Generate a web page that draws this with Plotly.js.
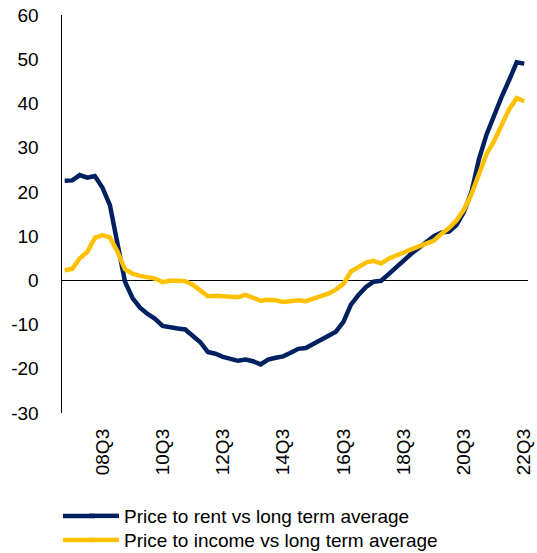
<!DOCTYPE html>
<html>
<head>
<meta charset="utf-8">
<script src="https://cdn.plot.ly/plotly-3.0.1.min.js"></script>
<style>
  html, body { margin: 0; padding: 0; background: #fff; }
  #chart { width: 537px; height: 553px; }
</style>
</head>
<body>
<div id="chart"></div>
<script>
// Quarterly categories 07Q2 .. 22Q3
const quarters = [];
for (let y = 2007; y <= 2022; y++) {
  for (let q = 1; q <= 4; q++) {
    if (y === 2007 && q < 2) continue;
    if (y === 2022 && q > 3) continue;
    quarters.push(String(y % 100).padStart(2, '0') + 'Q' + q);
  }
}

const tickLabels = ['08Q3', '10Q3', '12Q3', '14Q3', '16Q3', '18Q3', '20Q3', '22Q3'];
const yTickValues = [-30, -20, -10, 0, 10, 20, 30, 40, 50, 60];
const yTickLabels = ['-30', '-20', '-10', '0', '10', '20', '30', '40', '50', '60'];

const priceToRent = [
  22.5, 22.6, 23.8, 23.2, 23.6, 21.0, 17.0, 8.5, -0.3, -4.0,
  -6.2, -7.6, -8.7, -10.3, -10.7, -10.9, -11.1, -12.5, -14.0, -16.2,
  -16.6, -17.3, -17.8, -18.2, -17.9, -18.3, -19.0, -17.9, -17.5, -17.2,
  -16.4, -15.5, -15.3, -14.4, -13.6, -12.7, -11.6, -9.4, -5.5, -3.3,
  -1.5, -0.3, -0.1, 1.4, 3.0, 4.5, 6.0, 7.3, 8.7, 10.0,
  10.8, 11.0, 12.5, 15.5, 20.0, 27.5, 33.0, 37.5, 41.5, 45.3,
  49.3, 49.0
];

const priceToIncome = [
  2.3, 2.6, 5.0, 6.4, 9.6, 10.2, 9.7, 6.5, 2.5, 1.5,
  1.0, 0.7, 0.4, -0.4, -0.1, -0.1, -0.2, -1.0, -2.2, -3.6,
  -3.5, -3.6, -3.6, -3.8, -3.3, -3.9, -4.6, -4.4, -4.5, -4.9,
  -4.8, -4.5, -4.7, -4.2, -3.6, -3.0, -2.1, -0.8, 2.0, 3.1,
  4.0, 4.4, 3.8, 4.9, 5.7, 6.3, 7.0, 7.6, 8.2, 9.0,
  10.5, 11.8, 13.5, 16.0, 19.5, 24.0, 28.6, 31.5, 35.1, 38.7,
  41.2, 40.5
];

const seriesNames = ['Price to rent vs long term average', 'Price to income vs long term average'];
const seriesColors = ['#002060', '#FFC000'];

const FONT = 'Liberation Sans, Arial, sans-serif';
const W = 537, H = 553;
const M = { l: 62, r: 9, t: 15, b: 140 };
const plotH = H - M.t - M.b, plotW = W - M.l - M.r;
const legendRows = [516, 540];  // pixel centres of the legend rows

const traces = [
  {
    x: quarters, y: priceToRent, type: 'scatter', mode: 'lines',
    name: seriesNames[0], legend: 'legend',
    line: { color: seriesColors[0], width: 4.5 }
  },
  {
    x: quarters, y: priceToIncome, type: 'scatter', mode: 'lines',
    name: seriesNames[1], legend: 'legend2',
    line: { color: seriesColors[1], width: 4.5 }
  }
];

function legendBox(rowCentre) {
  return {
    xref: 'container', yref: 'container',
    x: 84 / W, y: 1 - (rowCentre - 19) / H, xanchor: 'left', yanchor: 'top',
    orientation: 'v',
    font: { family: FONT, size: 19, color: '#000' },
    bgcolor: 'rgba(0,0,0,0)'
  };
}

// extend the legend line samples to the left, as in the reference
const legendShapes = legendRows.map((row, k) => ({
  type: 'line', xref: 'paper', yref: 'paper',
  x0: (63 - M.l) / plotW, x1: (95 - M.l) / plotW,
  y0: (H - M.b - row) / plotH, y1: (H - M.b - row) / plotH,
  line: { color: seriesColors[k], width: 4.5 }
}));

const layout = {
  width: W, height: H,
  margin: { l: M.l, r: M.r, t: M.t, b: M.b, autoexpand: false },
  paper_bgcolor: '#fff', plot_bgcolor: '#fff',
  font: { family: FONT, size: 19, color: '#000' },
  showlegend: true,
  legend: legendBox(legendRows[0]),
  legend2: legendBox(legendRows[1]),
  shapes: legendShapes,
  xaxis: {
    type: 'category',
    range: [-0.36, 61.5],
    tickmode: 'array',
    tickvals: tickLabels,
    ticktext: tickLabels,
    tickangle: -90,
    ticks: '',
    ticklabelstandoff: 11,
    showgrid: false, zeroline: false, showline: false,
    tickfont: { family: FONT, size: 19, color: '#000' },
    fixedrange: true
  },
  yaxis: {
    range: [-30, 60],
    tickmode: 'array',
    tickvals: yTickValues,
    ticktext: yTickLabels,
    ticks: '',
    ticklabelstandoff: 18,
    showgrid: false,
    showline: true, linecolor: '#000', linewidth: 1.5,
    zeroline: true, zerolinecolor: '#000', zerolinewidth: 1.5,
    tickfont: { family: FONT, size: 19, color: '#000' },
    fixedrange: true
  }
};

Plotly.newPlot('chart', traces, layout, { displayModeBar: false, staticPlot: true });
</script>
</body>
</html>
